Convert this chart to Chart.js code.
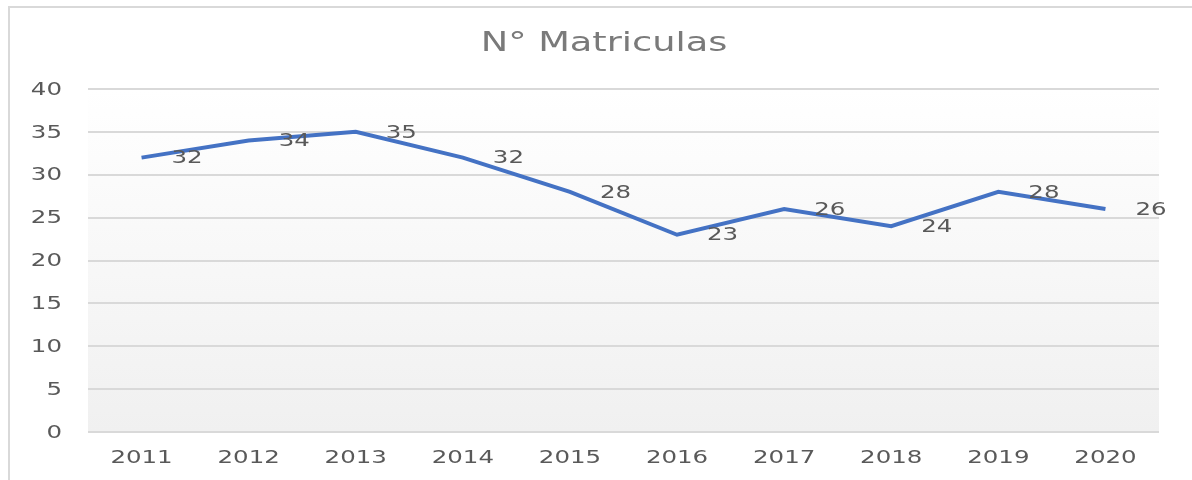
<!DOCTYPE html>
<html>
<head>
<meta charset="utf-8">
<script src="https://cdn.jsdelivr.net/npm/chart.js@4"></script>
<style>
  html, body { margin: 0; padding: 0; background: #fff; }
  #wrap { width: 1192px; height: 480px; }
</style>
</head>
<body>
<div id="wrap"><canvas id="chart" width="1192" height="480"></canvas></div>
<script>
// dados
const years = ['2011', '2012', '2013', '2014', '2015', '2016', '2017', '2018', '2019', '2020'];
const matriculas = [32, 34, 35, 32, 28, 23, 26, 24, 28, 26];
const yTicks = [0, 5, 10, 15, 20, 25, 30, 35, 40];
const titleText = 'N° Matriculas';

const FONT = "'DejaVu Sans', sans-serif";
const STRETCH = 1.36; // o original tem o texto esticado na horizontal

// escreve um texto esticado na horizontal
function stretchedText(ctx, text, x, y, align, size, color) {
  ctx.save();
  ctx.font = size + 'px ' + FONT;
  ctx.fillStyle = color;
  ctx.textBaseline = 'middle';
  ctx.textAlign = align;
  ctx.translate(x, y);
  ctx.scale(STRETCH, 1);
  ctx.fillText(text, 0, 0);
  ctx.restore();
}

// fundo, moldura e gradiente da área do gráfico
const backgroundPlugin = {
  id: 'background',
  beforeDraw(chart) {
    const ctx = chart.ctx;
    const a = chart.chartArea;
    ctx.save();
    ctx.fillStyle = '#ffffff';
    ctx.fillRect(0, 0, chart.width, chart.height);
    const g = ctx.createLinearGradient(0, a.top, 0, a.bottom);
    g.addColorStop(0, '#ffffff');
    g.addColorStop(1, '#f0f0f0');
    ctx.fillStyle = g;
    ctx.fillRect(a.left, a.top, a.right - a.left, a.bottom - a.top);
    // moldura externa (só topo e esquerda aparecem)
    ctx.strokeStyle = '#d9d9d9';
    ctx.lineWidth = 2;
    ctx.beginPath();
    ctx.moveTo(9, chart.height);
    ctx.lineTo(9, 7);
    ctx.lineTo(chart.width, 7);
    ctx.stroke();
    ctx.restore();
  }
};

// título, rótulos dos eixos e rótulos de dados
const textPlugin = {
  id: 'texts',
  afterDatasetsDraw(chart) {
    const ctx = chart.ctx;
    const meta = chart.getDatasetMeta(0);
    meta.data.forEach((pt, i) => {
      stretchedText(ctx, String(matriculas[i]), pt.x + 30, pt.y + 1, 'left', 18, '#595959');
    });
  },
  afterDraw(chart) {
    const ctx = chart.ctx;
    const x = chart.scales.x;
    const y = chart.scales.y;
    years.forEach((yr, i) => {
      stretchedText(ctx, yr, x.getPixelForValue(i), 458, 'center', 18, '#595959');
    });
    yTicks.forEach(v => {
      stretchedText(ctx, String(v), 62, y.getPixelForValue(v) + 1, 'right', 18, '#595959');
    });
    stretchedText(ctx, titleText, 604, 44, 'center', 27, '#7a7a7a');
  }
};

const chart = new Chart(document.getElementById('chart'), {
  type: 'line',
  data: {
    labels: years,
    datasets: [{
      label: titleText,
      data: matriculas,
      borderColor: '#4472c4',
      borderWidth: 4,
      pointRadius: 0,
      tension: 0,
      fill: false
    }]
  },
  options: {
    responsive: false,
    animation: false,
    layout: { padding: { left: 10, right: 33, top: 89, bottom: 0 } },
    plugins: {
      legend: { display: false },
      tooltip: { enabled: false },
      title: { display: false }
    },
    scales: {
      x: {
        offset: true,
        grid: { display: false, drawTicks: false },
        border: { display: false },
        ticks: { color: 'rgba(0,0,0,0)', font: { family: FONT, size: 18 }, maxRotation: 0 },
        afterFit(scale) { scale.height = 48; }
      },
      y: {
        min: 0,
        max: 40,
        afterBuildTicks(scale) { scale.ticks = yTicks.map(v => ({ value: v })); },
        grid: { color: '#d9d9d9', lineWidth: 2, drawTicks: false },
        border: { display: false },
        ticks: { color: 'rgba(0,0,0,0)', font: { family: FONT, size: 18 } },
        afterFit(scale) { scale.width = 78; }
      }
    }
  },
  plugins: [backgroundPlugin, textPlugin]
});
</script>
</body>
</html>
